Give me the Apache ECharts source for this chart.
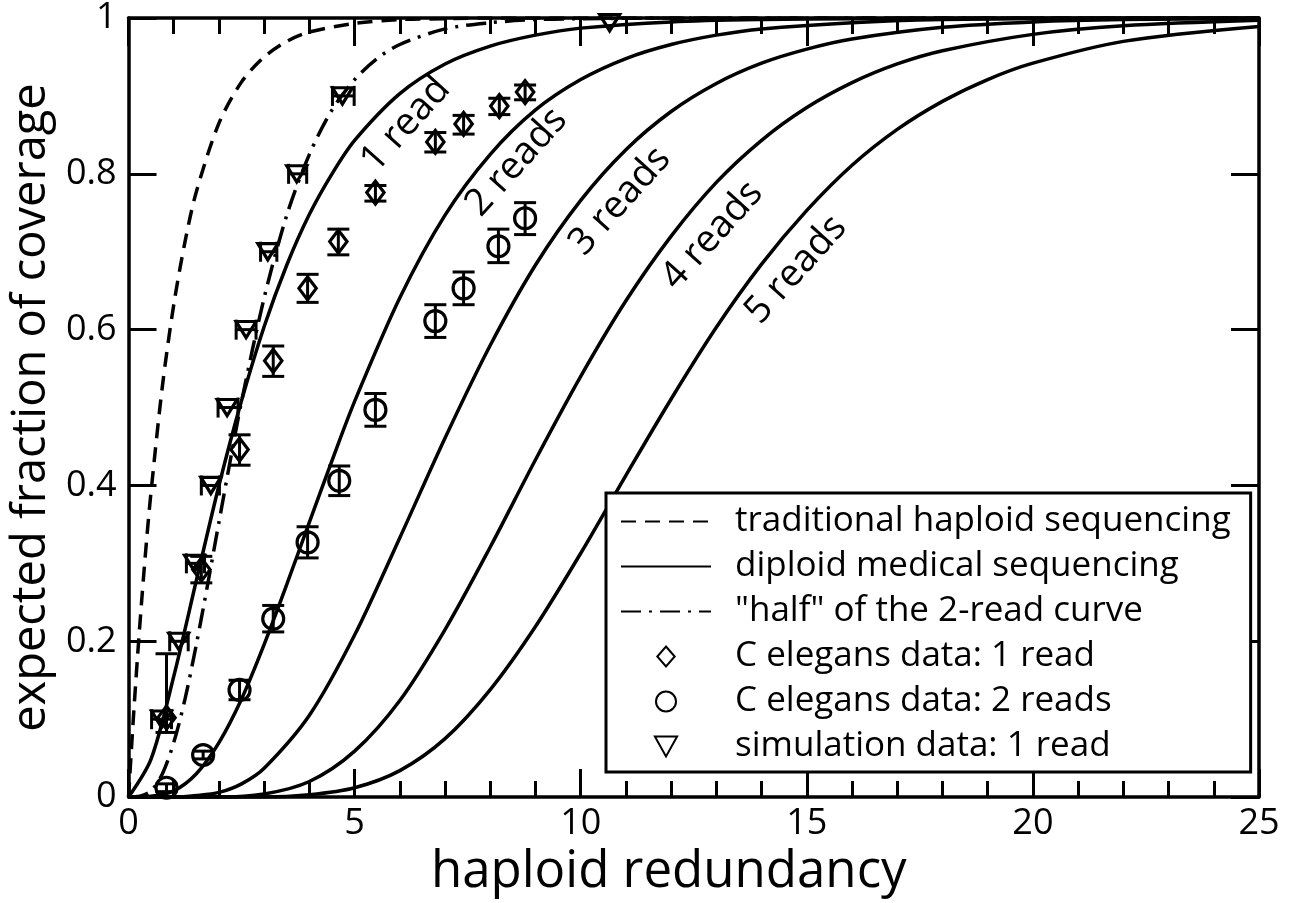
<!DOCTYPE html>
<html>
<head>
<meta charset="utf-8">
<script src="https://cdn.jsdelivr.net/npm/echarts@6/dist/echarts.min.js"></script>
<style>
html,body{margin:0;padding:0;background:#fff;}
#chart{width:1289px;height:903px;}
</style>
</head>
<body>
<div id="chart"></div>
<script>
// ---------- data ----------
const legendNames = [
  'traditional haploid sequencing',
  'diploid medical sequencing',
  '"half" of the 2-read curve',
  'C elegans data: 1 read',
  'C elegans data: 2 reads',
  'simulation data: 1 read'
];
const curveLabels = ['1 read', '2 reads', '3 reads', '4 reads', '5 reads'];

const haploidCurve = [[0,0],[0.1,0.095],[0.2,0.181],[0.3,0.259],[0.4,0.330],[0.5,0.393],[0.75,0.528],[1,0.632],[1.25,0.713],[1.5,0.777],[2,0.865],[2.5,0.918],[3,0.950],[3.5,0.970],[4,0.982],[5,0.993],[6,0.998],[7,0.999],[8,1.0],[25,1.0]];
const halfTwoReadCurve = [[0,0],[0.25,0.001],[0.5,0.008],[0.75,0.030],[1,0.070],[1.25,0.126],[1.5,0.196],[1.75,0.273],[2,0.353],[2.25,0.432],[2.5,0.508],[3,0.641],[3.5,0.747],[4,0.825],[4.5,0.882],[5,0.921],[5.5,0.948],[6,0.966],[7,0.986],[8,0.994],[9,0.998],[10,0.999],[12,1.0],[25,1.0]];
const read1Curve = [[0,0],[0.5,0.049],[1,0.155],[1.5,0.278],[2,0.400],[2.5,0.509],[3,0.604],[3.5,0.683],[4,0.748],[4.5,0.800],[5,0.843],[6,0.903],[7,0.941],[8,0.964],[9,0.978],[10,0.987],[12,0.995],[14,0.998],[16,0.999],[20,1.0],[25,1.0]];
const read2Curve = [[0,0],[0.5,0.001],[1,0.008],[1.5,0.030],[2,0.070],[2.5,0.126],[3,0.196],[3.5,0.273],[4,0.353],[4.5,0.432],[5,0.508],[6,0.641],[7,0.747],[8,0.825],[9,0.882],[10,0.921],[11,0.948],[12,0.966],[13,0.978],[14,0.986],[16,0.994],[18,0.998],[20,0.999],[25,1.0]];
const read3Curve = [[0,0],[1,0.000],[1.5,0.002],[2,0.006],[2.5,0.017],[3,0.037],[4,0.105],[5,0.208],[6,0.333],[7,0.461],[8,0.580],[9,0.683],[10,0.766],[11,0.831],[12,0.880],[13,0.916],[14,0.942],[15,0.960],[16,0.973],[18,0.988],[20,0.995],[22,0.998],[25,0.999]];
const read4Curve = [[0,0],[1,0.000],[2,0.000],[3,0.004],[4,0.020],[5,0.059],[6,0.124],[7,0.215],[8,0.321],[9,0.433],[10,0.540],[11,0.637],[12,0.720],[13,0.789],[14,0.843],[15,0.885],[16,0.917],[17,0.941],[18,0.958],[20,0.979],[22,0.990],[25,0.997]];
const read5Curve = [[0,0],[2,0.000],[3,0.000],[4,0.003],[5,0.012],[6,0.034],[7,0.075],[8,0.138],[9,0.219],[10,0.313],[11,0.413],[12,0.511],[13,0.603],[14,0.684],[15,0.753],[16,0.811],[17,0.857],[18,0.893],[19,0.921],[20,0.942],[22,0.970],[25,0.989]];

// [x, y, low, high]
const celegans1 = [[0.84,0.102,0.083,0.184],[1.61,0.292,0.275,0.309],[2.455,0.446,0.426,0.465],[3.20,0.560,0.540,0.579],[3.96,0.653,0.635,0.671],[4.64,0.713,0.696,0.729],[5.46,0.776,0.765,0.785],[6.785,0.841,0.828,0.853],[7.41,0.864,0.851,0.875],[8.20,0.887,0.876,0.897],[8.77,0.905,0.895,0.914]];
const celegans2 = [[0.84,0.012,0.007,0.017],[1.65,0.054,0.049,0.059],[2.455,0.1375,0.125,0.150],[3.20,0.229,0.212,0.246],[3.96,0.327,0.307,0.347],[4.66,0.406,0.387,0.425],[5.46,0.497,0.476,0.518],[6.785,0.611,0.590,0.632],[7.41,0.653,0.632,0.674],[8.18,0.707,0.686,0.729],[8.77,0.743,0.722,0.763]];
// [x, y, xLow, xHigh]
const simulation1 = [[0.73,0.1,0.51,0.95],[1.11,0.2,0.91,1.32],[1.46,0.3,1.28,1.68],[1.82,0.4,1.61,2.01],[2.18,0.5,1.98,2.42],[2.60,0.6,2.38,2.82],[3.08,0.7,2.92,3.28],[3.72,0.8,3.54,3.94],[4.73,0.9,4.51,4.99],[10.64,0.994,10.64,10.64]];

// ---------- chart ----------
const FONT = "'Open Sans', 'Noto Sans', sans-serif";
const chart = echarts.init(document.getElementById('chart'), null, {renderer: 'canvas'});

function tickAxis(position, min, max, interval, len, showLine) {
  return {
    type: 'value', position: position, min: min, max: max, interval: interval, offset: 0,
    axisLine: {show: showLine, onZero: false, lineStyle: {color: '#000', width: 3.5}},
    axisTick: {show: true, inside: true, length: len, lineStyle: {color: '#000', width: 3}},
    axisLabel: {show: false},
    splitLine: {show: false}
  };
}

function vErr(params, api) {
  const x = api.value(0), lo = api.value(2), hi = api.value(3);
  const a = api.coord([x, lo]), b = api.coord([x, hi]);
  const w = 11, st = {stroke: '#000', lineWidth: 3};
  if (Math.abs(a[1] - b[1]) < 0.5) return null;
  return {type: 'group', children: [
    {type: 'line', shape: {x1: a[0], y1: a[1], x2: b[0], y2: b[1]}, style: st},
    {type: 'line', shape: {x1: a[0] - w, y1: a[1], x2: a[0] + w, y2: a[1]}, style: st},
    {type: 'line', shape: {x1: b[0] - w, y1: b[1], x2: b[0] + w, y2: b[1]}, style: st}
  ]};
}
function hErr(params, api) {
  const y = api.value(1), lo = api.value(2), hi = api.value(3);
  const a = api.coord([lo, y]), b = api.coord([hi, y]);
  const h = 10, st = {stroke: '#000', lineWidth: 3};
  if (Math.abs(a[0] - b[0]) < 0.5) return null;
  return {type: 'group', children: [
    {type: 'line', shape: {x1: a[0], y1: a[1], x2: b[0], y2: b[1]}, style: st},
    {type: 'line', shape: {x1: a[0], y1: a[1] - h, x2: a[0], y2: a[1] + h}, style: st},
    {type: 'line', shape: {x1: b[0], y1: b[1] - h, x2: b[0], y2: b[1] + h}, style: st}
  ]};
}

const labelAnchors = [[6.13,0.863],[8.58,0.815],[10.87,0.765],[12.91,0.721],[14.76,0.677]];
const readCurves = [read1Curve, read2Curve, read3Curve, read4Curve, read5Curve];

const lineBase = {
  type: 'line', symbol: 'none', smooth: 0.3,
  xAxisIndex: 0, yAxisIndex: 0, silent: true, z: 3,
  itemStyle: {color: '#000'}
};

const series = [
  Object.assign({}, lineBase, {
    name: legendNames[0], data: haploidCurve,
    lineStyle: {color: '#000', width: 3.5, type: [15, 9]}
  })
];
readCurves.forEach((c, i) => {
  series.push(Object.assign({}, lineBase, {
    name: legendNames[1], data: c,
    lineStyle: {color: '#000', width: 3.5, type: 'solid'},
    markPoint: {
      symbol: 'circle', symbolSize: 0, silent: true, animation: false,
      label: {show: true, position: 'inside', formatter: '{b}', rotate: 48,
        fontSize: 38, fontFamily: FONT, color: '#000'},
      data: [{name: curveLabels[i], coord: labelAnchors[i]}]
    }
  }));
});
series.push(Object.assign({}, lineBase, {
  name: legendNames[2], data: halfTwoReadCurve,
  lineStyle: {color: '#000', width: 3.5, type: [20, 8, 3, 8]}
}));
series.push({
  name: 'err1', type: 'custom', renderItem: vErr, data: celegans1, z: 5, silent: true,
  encode: {x: 0, y: 1}
});
series.push({
  name: 'err2', type: 'custom', renderItem: vErr, data: celegans2, z: 5, silent: true,
  encode: {x: 0, y: 1}
});
series.push({
  name: 'err3', type: 'custom', renderItem: hErr, data: simulation1, z: 5, silent: true,
  encode: {x: 0, y: 1}
});
const markerStyle = {color: 'rgba(0,0,0,0)', borderColor: '#000', borderWidth: 3.2, opacity: 1};
series.push({
  name: legendNames[3], type: 'scatter', symbol: 'path://M10,0L20,11.5L10,23L0,11.5Z', symbolSize: [20, 23], symbolKeepAspect: true,
  data: celegans1.map(d => [d[0], d[1]]), itemStyle: markerStyle, z: 6, silent: true
});
series.push({
  name: legendNames[4], type: 'scatter', symbol: 'circle', symbolSize: 21, symbolKeepAspect: true,
  data: celegans2.map(d => [d[0], d[1]]), itemStyle: markerStyle, z: 6, silent: true
});
series.push({
  name: legendNames[5], type: 'scatter', symbol: 'path://M0,0L20,0L10,18Z', symbolSize: [20, 18], symbolKeepAspect: true,
  data: simulation1.map(d => [d[0], d[1]]), itemStyle: markerStyle, z: 6, silent: true
});

const xMain = tickAxis('bottom', 0, 25, 5, 28, true);
xMain.axisLabel = {show: true, fontSize: 36, fontFamily: FONT, color: '#000', margin: 9};
xMain.name = 'haploid redundancy';
xMain.nameLocation = 'middle';
xMain.nameGap = 35;
xMain.nameTextStyle = {fontSize: 51, fontFamily: FONT, color: '#000', padding: [0, 50, 0, 0]};

const yMain = tickAxis('left', 0, 1, 0.2, 28, true);
yMain.axisLabel = {show: true, fontSize: 36, fontFamily: FONT, color: '#000', margin: 12};
yMain.name = 'expected fraction of coverage';
yMain.nameLocation = 'middle';
yMain.nameGap = 62;
yMain.nameTextStyle = {fontSize: 47, fontFamily: FONT, color: '#000'};

const option = {
  animation: false,
  backgroundColor: '#fff',
  textStyle: {fontFamily: FONT, color: '#000'},
  grid: {left: 123, right: 30, top: 17, bottom: 92, containLabel: false},
  xAxis: [
    xMain,
    tickAxis('top', 0, 25, 5, 28, true),
    tickAxis('bottom', 0, 25, 5, 28, false),
    tickAxis('top', 0, 25, 5, 28, false),
    tickAxis('bottom', 0, 25, 1, 16, false),
    tickAxis('top', 0, 25, 1, 16, false)
  ],
  yAxis: [
    yMain,
    tickAxis('right', 0, 1, 0.2, 28, true)
  ],
  legend: {
    show: true, orient: 'vertical', left: 606, top: 493,
    data: legendNames.map((n, i) => i < 3 ? {name: n, itemStyle: {opacity: 0}} : {name: n}),
    itemWidth: 90, itemHeight: 20, itemGap: 0,
    selectedMode: false,
    textStyle: {fontSize: 35, lineHeight: 45, fontFamily: FONT, color: '#000', padding: [0, 0, 0, 19]},
    backgroundColor: '#fff', borderColor: '#000', borderWidth: 3, borderRadius: 0,
    padding: [6, 20, 3, 14]
  },
  series: series
};
chart.setOption(option);
</script>
</body>
</html>
